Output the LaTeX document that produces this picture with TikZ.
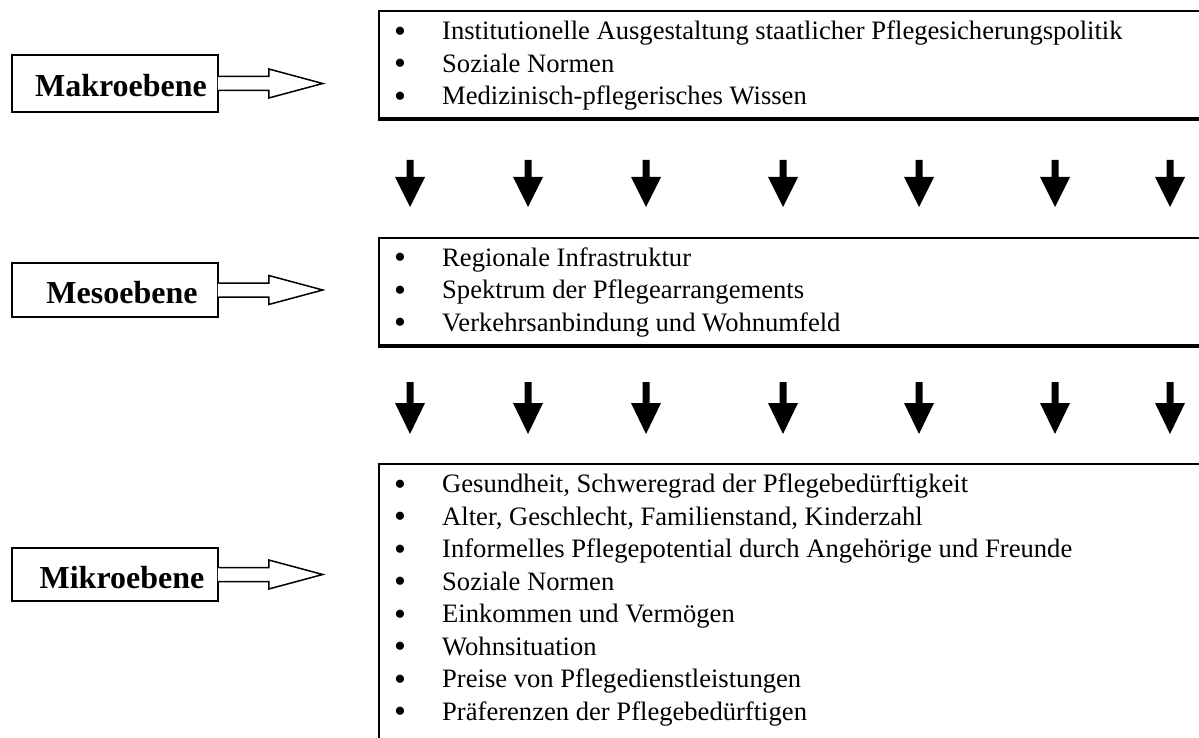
\documentclass[tikz,border=0pt]{standalone}
\usepackage{fontspec}
\setmainfont{Liberation Serif}
\usepackage{array}
\newcommand{\bigbul}{\raisebox{-2.5pt}{\fontsize{34}{34}\selectfont\textbullet}}
\begin{document}
\begin{tikzpicture}[x=1pt,y=-1pt,
  lvlbox/.style={draw,line width=1.5pt,minimum width=206pt,inner sep=0pt},
  lvltext/.style={font=\fontsize{32}{38}\selectfont\bfseries,inner sep=0pt,anchor=base},
  listtext/.style={font=\fontsize{26.6}{32.5}\selectfont,inner sep=0pt,anchor=base west},
  edgeline/.style={line width=2.2pt},
  bottomline/.style={line width=3.5pt},
  blockarrow/.style={line width=1.5pt},
  downarrow/.style={fill=black}]
\useasboundingbox (0,0) rectangle (1199,738);
\clip (0,0) rectangle (1199,738);

% ---------- level boxes ----------
\node[lvlbox,minimum height=57pt] (makrobox) at (115,83.5) {};
\node[lvltext] (makrolabel) at (121,97) {Makroebene};
\node[lvlbox,minimum height=54pt] (mesobox) at (115,290) {};
\node[lvltext] (mesolabel) at (122,303) {Mesoebene};
\node[lvlbox,minimum height=53pt] (mikrobox) at (115,574.5) {};
\node[lvltext] (mikrolabel) at (122,588) {Mikroebene};

% ---------- block arrows ----------
\foreach \b in {makrobox,mesobox,mikrobox}{
  \fill[white] (\b.east) ++(-1,-6.5) -- ++(51,0) -- ++(0,-8) -- ++(54,14.5) -- ++(-54,14.5) -- ++(0,-8) -- ++(-51,0) -- cycle;
  \draw[blockarrow,line join=miter] (\b.east) ++(0,-7) -- ++(50,0) -- ++(0,-7.5) -- ++(54,14.5) -- ++(-54,14.5) -- ++(0,-7.5) -- ++(-50,0);
}

% ---------- content boxes ----------
\draw[edgeline] (1210,11) -- (379,11) -- (379,119);
\draw[bottomline] (377.9,119) -- (1210,119);
\draw[edgeline] (1210,238) -- (379,238) -- (379,346);
\draw[bottomline] (377.9,346) -- (1210,346);
\draw[edgeline] (1210,464) -- (379,464) -- (379,745);

% ---------- lists ----------
\node[listtext] (makrolist) at (394,40) {\begin{tabular}[t]{@{}p{48pt}@{}l@{}}
\bigbul & Institutionelle Ausgestaltung staatlicher Pflegesicherungspolitik\\
\bigbul & Soziale Normen\\
\bigbul & Medizinisch-pflegerisches Wissen
\end{tabular}};
\node[listtext] (mesolist) at (394,266) {\begin{tabular}[t]{@{}p{48pt}@{}l@{}}
\bigbul & Regionale Infrastruktur\\
\bigbul & Spektrum der Pflegearrangements\\
\bigbul & Verkehrsanbindung und Wohnumfeld
\end{tabular}};
\node[listtext] (mikrolist) at (394,492.5) {\begin{tabular}[t]{@{}p{48pt}@{}l@{}}
\bigbul & Gesundheit, Schweregrad der Pflegebedürftigkeit\\
\bigbul & Alter, Geschlecht, Familienstand, Kinderzahl\\
\bigbul & Informelles Pflegepotential durch Angehörige und Freunde\\
\bigbul & Soziale Normen\\
\bigbul & Einkommen und Vermögen\\
\bigbul & Wohnsituation\\
\bigbul & Preise von Pflegedienstleistungen\\
\bigbul & Präferenzen der Pflegebedürftigen
\end{tabular}};

% ---------- down arrows ----------
\foreach \x in {410,528,646,783,919,1055,1170}{
  \fill[downarrow] (\x-3.5,160) -- (\x+3.5,160) -- (\x+3.5,177) -- (\x+15,177) -- (\x,207) -- (\x-15,177) -- (\x-3.5,177) -- cycle;
  \fill[downarrow] (\x-3.5,382) -- (\x+3.5,382) -- (\x+3.5,403) -- (\x+15,403) -- (\x,434) -- (\x-15,403) -- (\x-3.5,403) -- cycle;
}
\end{tikzpicture}
\end{document}
